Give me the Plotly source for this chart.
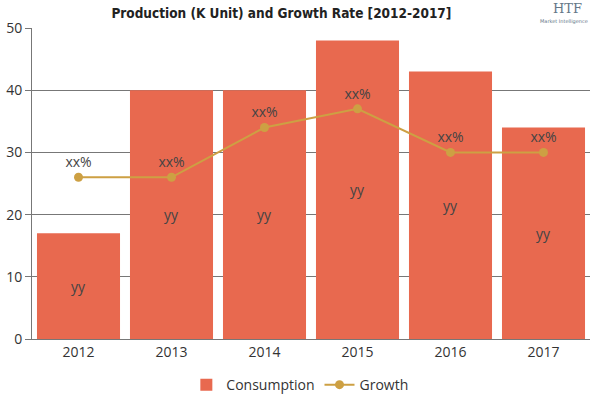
import plotly.graph_objects as go

years = ["2012", "2013", "2014", "2015", "2016", "2017"]
consumption = [17, 40, 40, 48, 43, 34]
growth = [26, 26, 34, 37, 30, 30]
bar_labels = ["yy"] * 6
growth_labels = ["xx%"] * 6
y_ticks = [0, 10, 20, 30, 40, 50]

fig = go.Figure()
fig.add_trace(go.Bar(
    x=years, y=consumption, name="Consumption",
    marker=dict(color="#E8694F", line=dict(width=0)),
    text=bar_labels, textposition="inside", insidetextanchor="middle",
    textfont=dict(color="#444444", size=14, family="Open Sans"),
    constraintext="none", hoverinfo="skip",
))
fig.add_trace(go.Scatter(
    x=years, y=growth, name="Growth", mode="lines+markers+text",
    line=dict(color="#CDA043", width=2),
    marker=dict(color="#CDA043", size=9),
    text=growth_labels, textposition="top center",
    textfont=dict(color="#444444", size=14, family="Open Sans"),
))

fig.update_layout(
    width=600, height=400,
    margin=dict(l=32, r=10, t=28, b=61, autoexpand=False),
    paper_bgcolor="white", plot_bgcolor="white",
    bargap=0.107,
    font=dict(family="Open Sans", size=14, color="#333333"),
    title=dict(text="<b>Production (K Unit) and Growth Rate [2012-2017]</b>",
               x=0.469, xanchor="center", y=0.967, yanchor="middle",
               font=dict(family="DejaVu Sans Condensed", size=13.5, color="#222222")),
    legend=dict(orientation="h", x=0.48, xanchor="center", y=-0.148, yanchor="middle",
                font=dict(size=14, color="#333333"), itemwidth=30),
    showlegend=True,
    xaxis=dict(type="category", showgrid=False, showline=True, linecolor="#777777",
               linewidth=1, ticks="", automargin=False,
               tickfont=dict(size=14, color="#333333")),
    yaxis=dict(range=[0, 50], tickvals=y_ticks, showgrid=True, gridcolor="#777777",
               gridwidth=1, showline=True, linecolor="#777777", ticks="outside",
               ticklen=6, tickcolor="#777777", zeroline=False, automargin=False,
               tickfont=dict(size=14, color="#333333")),
)
fig.add_annotation(xref="paper", yref="paper", x=0.99, y=1.062, xanchor="right",
                   yanchor="middle", text="HTF", showarrow=False,
                   font=dict(family="DejaVu Serif", size=13, color="#667788"))
fig.add_annotation(xref="paper", yref="paper", x=1.0, y=1.02, xanchor="right",
                   yanchor="middle", text="Market Intelligence", showarrow=False,
                   font=dict(family="DejaVu Sans", size=5, color="#667788"))
fig.write_html("out.html", config={"displayModeBar": False},
               post_script="document.body.style.margin='0';")
